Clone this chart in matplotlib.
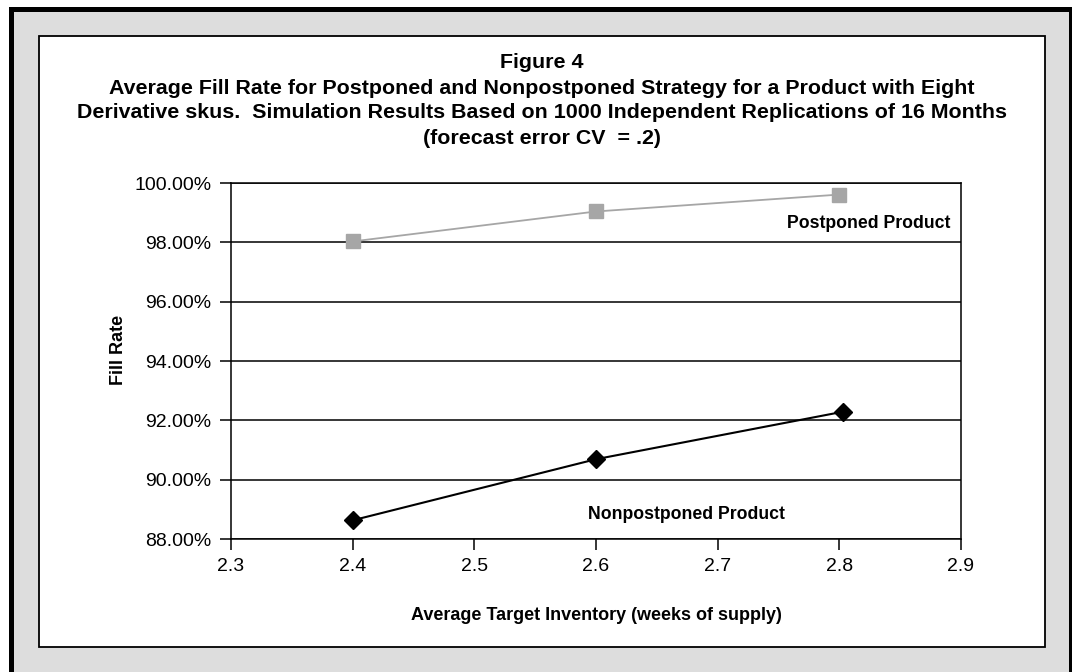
import matplotlib
matplotlib.use("Agg")
import matplotlib.pyplot as plt
from matplotlib.patches import Rectangle
from matplotlib.ticker import FuncFormatter, MultipleLocator

# ---- data ----
postponed_x = [2.4, 2.6, 2.8]
postponed_fill = [98.03, 99.04, 99.61]
nonpostponed_x = [2.4, 2.6, 2.803]
nonpostponed_fill = [88.63, 90.69, 92.29]
series_labels = ["Postponed Product", "Nonpostponed Product"]
title_lines = [
    "Figure 4",
    "Average Fill Rate for Postponed and Nonpostponed Strategy for a Product with Eight",
    "Derivative skus.  Simulation Results Based on 1000 Independent Replications of 16 Months",
    "(forecast error CV  = .2)",
]
x_label = "Average Target Inventory (weeks of supply)"
y_label = "Fill Rate"

W, H = 1072, 672
fig = plt.figure(figsize=(W / 100, H / 100), dpi=100)
fig.patch.set_facecolor("white")

narrow = ["Liberation Sans Narrow", "Liberation Sans", "DejaVu Sans"]
regular = ["Liberation Sans", "DejaVu Sans"]

# background frame (pixel coordinates)
bg = fig.add_axes([0, 0, 1, 1], zorder=0)
bg.set_xlim(0, W)
bg.set_ylim(H, 0)
bg.axis("off")
bg.add_patch(Rectangle((9, 7), W - 9, H - 7, facecolor="#dddddd", edgecolor="none"))
bg.add_patch(Rectangle((9, 7), W - 9, 5, facecolor="black", edgecolor="none"))
bg.add_patch(Rectangle((9, 7), 5, H - 7, facecolor="black", edgecolor="none"))
bg.add_patch(Rectangle((1069, 7), 3, H - 7, facecolor="black", edgecolor="none"))
bg.add_patch(Rectangle((39, 36), 1045 - 39, 647 - 36, facecolor="white",
                       edgecolor="black", linewidth=1.3))

for yy, line in zip([62, 88, 113, 138], title_lines):
    bg.text(542, yy, line, ha="center", va="center", fontsize=15.4,
            fontweight="bold", family=regular)

# main axes
ax = fig.add_axes([231 / W, (H - 539) / H, (961 - 231) / W, (539 - 183) / H], zorder=1)
ax.set_facecolor("none")
ax.set_xlim(2.3, 2.9)
ax.set_ylim(88, 100)
ax.xaxis.set_major_locator(MultipleLocator(0.1))
ax.yaxis.set_major_locator(MultipleLocator(2))
ax.xaxis.set_major_formatter(FuncFormatter(lambda v, p: f"{v:.1f}"))
ax.yaxis.set_major_formatter(FuncFormatter(lambda v, p: f"{v:.2f}%"))
ax.yaxis.grid(True, color="black", linewidth=1.1)
ax.set_axisbelow(True)
for s in ax.spines.values():
    s.set_linewidth(1.1)
    s.set_color("black")
ax.tick_params(axis="both", direction="out", length=8, width=1.1, color="black",
               labelsize=14, pad=6)
for lab in ax.get_xticklabels() + ax.get_yticklabels():
    lab.set_family(regular)

ax.plot(postponed_x, postponed_fill, color="#a6a6a6", linewidth=1.3,
        marker="s", markersize=10, markerfacecolor="#a6a6a6",
        markeredgecolor="#a6a6a6", clip_on=False, zorder=3)
ax.plot(nonpostponed_x, nonpostponed_fill, color="black", linewidth=1.5,
        marker="D", markersize=9, markerfacecolor="black",
        markeredgecolor="black", clip_on=False, zorder=3)

ax.text(2.891, 98.62, series_labels[0], ha="right", va="center", fontsize=12.7,
        fontweight="bold", family=narrow)
ax.text(2.5934, 88.81, series_labels[1], ha="left", va="center", fontsize=12.7,
        fontweight="bold", family=narrow)

ax.set_xlabel(x_label, fontsize=13, fontweight="bold", family=narrow)
ax.set_ylabel(y_label, fontsize=13, fontweight="bold", family=narrow)
ax.xaxis.set_label_coords(0.5, (539 - 615) / 356)
ax.yaxis.set_label_coords((118 - 231) / 730, (539 - 350) / 356)
ax.xaxis.label.set_va("center")
ax.yaxis.label.set_va("center")

fig.savefig("out.png", dpi=100)
